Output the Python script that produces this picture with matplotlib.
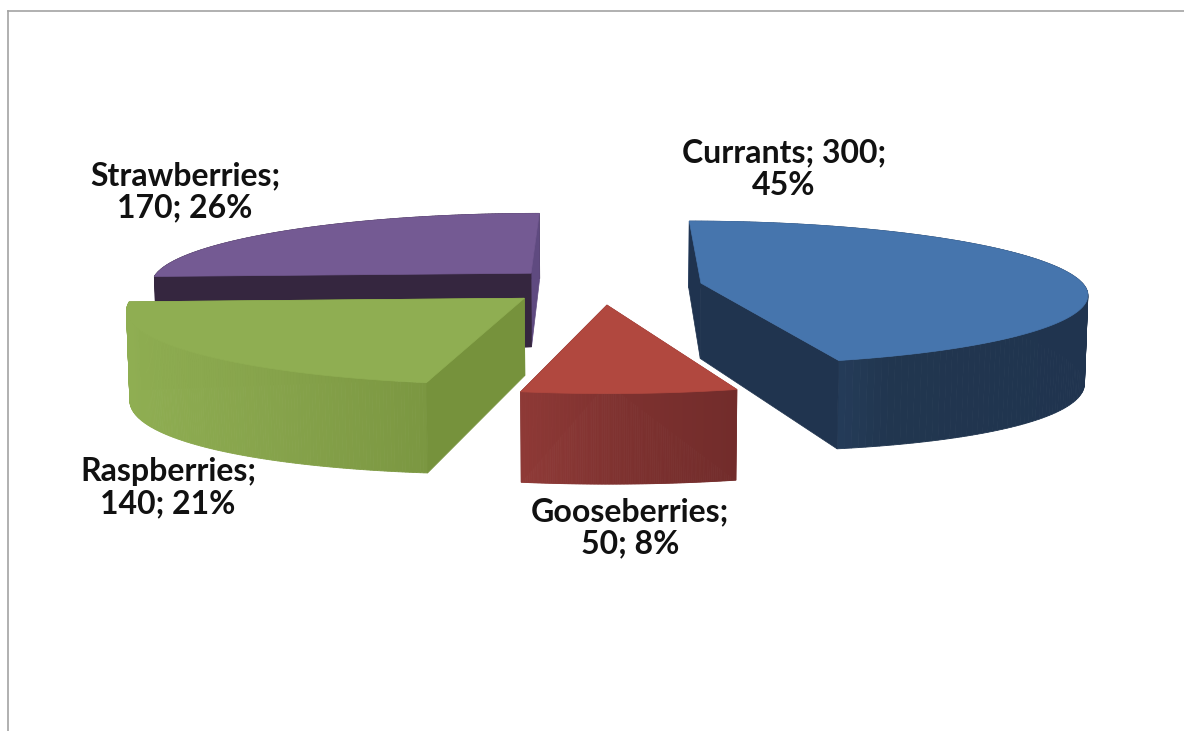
import numpy as np
import matplotlib
matplotlib.use("Agg")
import matplotlib.pyplot as plt
from matplotlib.colors import LinearSegmentedColormap
from matplotlib.patches import Polygon

# slices, clockwise from twelve o'clock
names = ["Currants", "Gooseberries", "Raspberries", "Strawberries"]
values = [300, 50, 140, 170]
label_break = ["value", "name", "name", "name"]

top_colors = ["#4675ad", "#b1483f", "#8fae52", "#745a93"]
rim_colors = [
    ["#2f4c75", "#21364f", "#20344f"],
    ["#8f3a37", "#7d312f", "#722c2b"],
    ["#8fae52", "#86a34b", "#7b9741"],
    ["#35263f", "#35263f", "#35263f"],
]
# first edge / last edge of each slice
side_colors = [
    ["#1f334f", "#20344f"],
    ["#8f3a37", "#722c2b"],
    ["#76923c", "#76923c"],
    ["#35263f", "#5f4a80"],
]
label_xy = [(784, 169), (630, 528), (168, 488), (185, 192)]

W, H = 1184, 731

# camera for the tilted pie, axes units are pixels
xv, yv = 602, -244
f, g = 2860, 3952
depth = 7.46
explode = 0.262
thick = 0.142


def project(u, v):
    z = depth + v
    return xv + f * u / z, yv + g / z


def drop(x, y, u):
    # same point on the lower face of the slice
    h = thick * (y - yv) * (1 + 0.1 * u ** 2)
    return x + (xv - x) * 0.007, y + h


fig = plt.figure(figsize=(W / 100, H / 100), dpi=100)
ax = fig.add_axes([8 / W, 0, (W - 8) / W, (H - 11) / H])
ax.set_xlim(8, W)
ax.set_ylim(H, 11)
ax.set_xticks([])
ax.set_yticks([])
for side in ["right", "bottom"]:
    ax.spines[side].set_visible(False)
for side in ["left", "top"]:
    ax.spines[side].set_color("#a3a3a3")
    ax.spines[side].set_linewidth(1.2)

total = sum(values)
edges = np.cumsum([0] + values) / total * 2 * np.pi


def wedge(i):
    a0, a1 = edges[i], edges[i + 1]
    mid = (a0 + a1) / 2
    cu, cv = explode * np.sin(mid), explode * np.cos(mid)
    th = np.linspace(a0, a1, 160)
    us = cu + np.sin(th)
    vs = cv + np.cos(th)
    x, y = project(us, vs)
    px, py = project(cu, cv)
    bx, by = drop(x, y, us)
    qx, qy = drop(px, py, cu)
    cmap = LinearSegmentedColormap.from_list("rim", rim_colors[i])
    t = (x - x.min()) / (x.max() - x.min())

    # a cut face shows only when the top of the slice lies above its edge
    shown = []
    for n, c in ((0, side_colors[i][0]), (-1, side_colors[i][1])):
        face = [(px, py), (x[n], y[n]), (bx[n], by[n]), (qx, qy)]
        line_y = py + (y[n] - py) / (x[n] - px) * (x[80] - px)
        if y[80] < line_y:
            shown.append((np.cos(th[n]), face, c))
        else:
            ax.add_patch(Polygon(face, fc=c, ec=c, lw=0.5))

    # outer rim as thin vertical strips
    for k in range(len(th) - 1):
        c = cmap((t[k] + t[k + 1]) / 2)
        pts = [(x[k], y[k]), (x[k + 1], y[k + 1]), (bx[k + 1], by[k + 1]), (bx[k], by[k])]
        ax.add_patch(Polygon(pts, fc=c, ec=c, lw=0.6))

    # further face goes down first
    for _, face, c in sorted(shown, key=lambda s: -s[0]):
        ax.add_patch(Polygon(face, fc=c, ec=c, lw=0.5))

    top = [(px, py)] + list(zip(x, y))
    ax.add_patch(Polygon(top, fc=top_colors[i], ec=top_colors[i], lw=0.5))


# back slices first so the nearer ones overlap them
for i in [3, 2, 0, 1]:
    wedge(i)

for i, name in enumerate(names):
    pct = round(values[i] / total * 100)
    if label_break[i] == "value":
        s = f"{name}; {values[i]};\n{pct}%"
    else:
        s = f"{name};\n{values[i]}; {pct}%"
    ax.text(label_xy[i][0], label_xy[i][1], s, ha="center", va="center",
            fontsize=23, fontweight="bold", family="Lato",
            color="#111111", linespacing=1.15, zorder=10)

fig.savefig("out.png", dpi=100)
